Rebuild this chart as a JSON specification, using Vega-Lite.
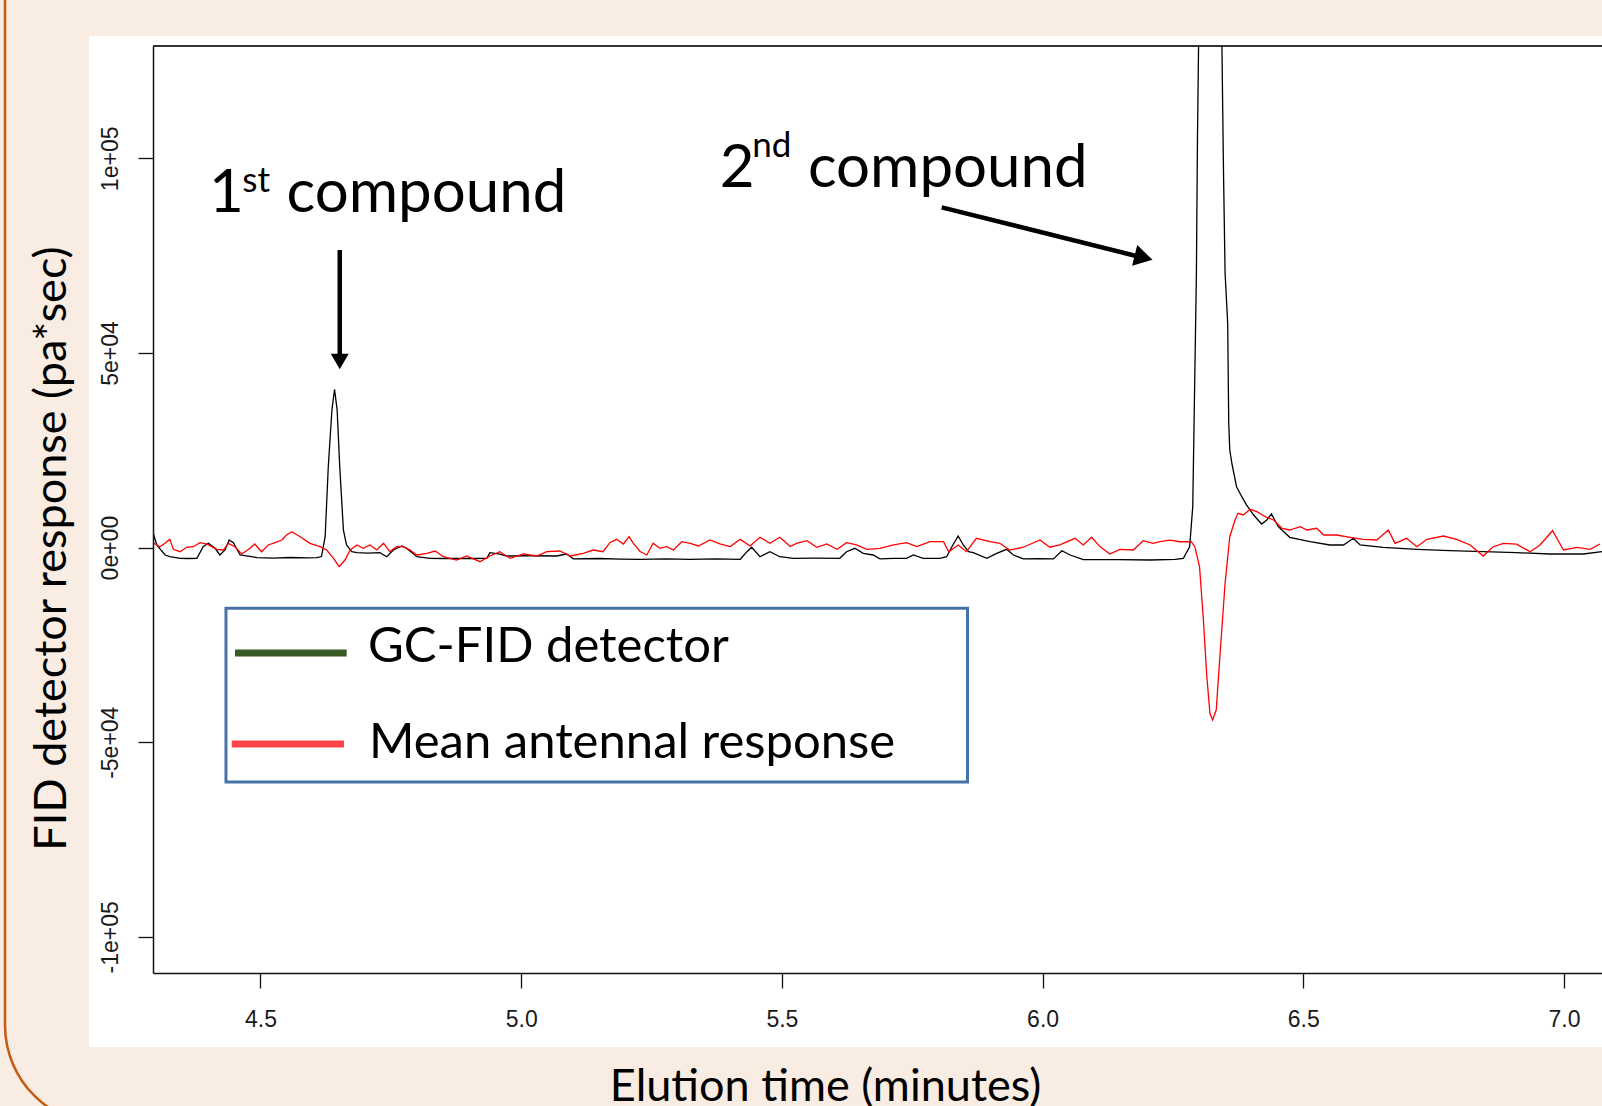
{
  "$schema": "https://vega.github.io/schema/vega-lite/v6.json",
  "width": 1449,
  "height": 927,
  "autosize": {"type": "none"},
  "padding": {"left": 153, "top": 46, "right": 0, "bottom": 133},
  "background": "#F8ECE3",
  "config": {"view": {"stroke": null}},
  "datasets": {
    "gc": [
      {"t": 4.294, "v": 3800}, {"t": 4.301, "v": 670}, {"t": 4.317, "v": -1900}, {"t": 4.326, "v": -2340}, {"t": 4.346, "v": -2750}, {"t": 4.362, "v": -2800}, {"t": 4.378, "v": -2750}, {"t": 4.390, "v": 230}, {"t": 4.400, "v": 1100}, {"t": 4.413, "v": -180}, {"t": 4.422, "v": -1900}, {"t": 4.432, "v": -600}, {"t": 4.440, "v": 1950}, {"t": 4.448, "v": 1260}, {"t": 4.461, "v": -1900}, {"t": 4.493, "v": -2550}, {"t": 4.525, "v": -2700}, {"t": 4.557, "v": -2550}, {"t": 4.589, "v": -2650}, {"t": 4.608, "v": -2550}, {"t": 4.617, "v": -2300}, {"t": 4.624, "v": 2800}, {"t": 4.630, "v": 20780}, {"t": 4.637, "v": 35350}, {"t": 4.642, "v": 40670}, {"t": 4.647, "v": 35350}, {"t": 4.652, "v": 20780}, {"t": 4.659, "v": 4520}, {"t": 4.665, "v": 670}, {"t": 4.675, "v": -1050}, {"t": 4.685, "v": -1300}, {"t": 4.706, "v": -1400}, {"t": 4.729, "v": -1300}, {"t": 4.742, "v": -2340}, {"t": 4.755, "v": -600}, {"t": 4.771, "v": 410}, {"t": 4.780, "v": -180}, {"t": 4.800, "v": -2340}, {"t": 4.825, "v": -2750}, {"t": 4.850, "v": -2800}, {"t": 4.876, "v": -2750}, {"t": 4.905, "v": -2800}, {"t": 4.934, "v": -2750}, {"t": 4.940, "v": -1300}, {"t": 4.959, "v": -1650}, {"t": 4.972, "v": -2160}, {"t": 5.017, "v": -2100}, {"t": 5.068, "v": -2160}, {"t": 5.087, "v": -1650}, {"t": 5.100, "v": -2900}, {"t": 5.151, "v": -2800}, {"t": 5.190, "v": -2950}, {"t": 5.228, "v": -3000}, {"t": 5.276, "v": -2900}, {"t": 5.324, "v": -3000}, {"t": 5.372, "v": -2900}, {"t": 5.420, "v": -3000}, {"t": 5.433, "v": -1050}, {"t": 5.442, "v": 80}, {"t": 5.458, "v": -2340}, {"t": 5.477, "v": -1050}, {"t": 5.496, "v": -2340}, {"t": 5.522, "v": -2750}, {"t": 5.563, "v": -2700}, {"t": 5.611, "v": -2750}, {"t": 5.624, "v": -1050}, {"t": 5.640, "v": -180}, {"t": 5.656, "v": -1470}, {"t": 5.675, "v": -1900}, {"t": 5.688, "v": -2900}, {"t": 5.714, "v": -2750}, {"t": 5.739, "v": -2750}, {"t": 5.752, "v": -1900}, {"t": 5.771, "v": -2750}, {"t": 5.803, "v": -2750}, {"t": 5.816, "v": -2340}, {"t": 5.826, "v": 230}, {"t": 5.838, "v": 2980}, {"t": 5.848, "v": 670}, {"t": 5.858, "v": -1050}, {"t": 5.867, "v": -1300}, {"t": 5.893, "v": -2750}, {"t": 5.912, "v": -1470}, {"t": 5.931, "v": -440}, {"t": 5.944, "v": -1900}, {"t": 5.963, "v": -2900}, {"t": 5.992, "v": -2850}, {"t": 6.021, "v": -2900}, {"t": 6.037, "v": -790}, {"t": 6.053, "v": -1900}, {"t": 6.078, "v": -3100}, {"t": 6.148, "v": -3100}, {"t": 6.206, "v": -3190}, {"t": 6.254, "v": -3000}, {"t": 6.270, "v": -2750}, {"t": 6.275, "v": -1500}, {"t": 6.282, "v": 230}, {"t": 6.288, "v": 10500}, {"t": 6.291, "v": 36200}, {"t": 6.295, "v": 70470}, {"t": 6.297, "v": 104700}, {"t": 6.301, "v": 150000}, {"t": 6.309, "v": 300000}, {"t": 6.321, "v": 380000}, {"t": 6.333, "v": 300000}, {"t": 6.337, "v": 250000}, {"t": 6.344, "v": 128000}, {"t": 6.347, "v": 96160}, {"t": 6.350, "v": 70470}, {"t": 6.353, "v": 62760}, {"t": 6.355, "v": 57620}, {"t": 6.357, "v": 31930}, {"t": 6.359, "v": 25070}, {"t": 6.363, "v": 21660}, {"t": 6.372, "v": 15650}, {"t": 6.382, "v": 13080}, {"t": 6.391, "v": 11000}, {"t": 6.404, "v": 8500}, {"t": 6.420, "v": 6060}, {"t": 6.430, "v": 7090}, {"t": 6.439, "v": 8630}, {"t": 6.452, "v": 5370}, {"t": 6.474, "v": 2650}, {"t": 6.513, "v": 1520}, {"t": 6.551, "v": 670}, {"t": 6.577, "v": 670}, {"t": 6.596, "v": 2390}, {"t": 6.609, "v": 670}, {"t": 6.653, "v": 80}, {"t": 6.718, "v": -440}, {"t": 6.781, "v": -790}, {"t": 6.845, "v": -1050}, {"t": 6.909, "v": -1300}, {"t": 6.973, "v": -1640}, {"t": 7.037, "v": -1640}, {"t": 7.073, "v": -1050}
    ],
    "ead": [
      {"t": 4.294, "v": 1260}, {"t": 4.307, "v": 230}, {"t": 4.317, "v": 1100}, {"t": 4.326, "v": 2130}, {"t": 4.333, "v": -440}, {"t": 4.346, "v": -1050}, {"t": 4.358, "v": 80}, {"t": 4.371, "v": 230}, {"t": 4.384, "v": 1260}, {"t": 4.397, "v": 920}, {"t": 4.416, "v": -440}, {"t": 4.429, "v": -620}, {"t": 4.438, "v": 1100}, {"t": 4.451, "v": 230}, {"t": 4.464, "v": -1640}, {"t": 4.480, "v": -180}, {"t": 4.489, "v": 920}, {"t": 4.502, "v": -1050}, {"t": 4.515, "v": 670}, {"t": 4.528, "v": 1260}, {"t": 4.541, "v": 1950}, {"t": 4.550, "v": 3240}, {"t": 4.560, "v": 4090}, {"t": 4.576, "v": 2800}, {"t": 4.595, "v": 1100}, {"t": 4.614, "v": 230}, {"t": 4.627, "v": -620}, {"t": 4.640, "v": -2750}, {"t": 4.651, "v": -4900}, {"t": 4.662, "v": -3190}, {"t": 4.672, "v": -620}, {"t": 4.685, "v": 670}, {"t": 4.697, "v": -180}, {"t": 4.710, "v": 670}, {"t": 4.723, "v": -620}, {"t": 4.736, "v": 1100}, {"t": 4.748, "v": -1050}, {"t": 4.761, "v": 230}, {"t": 4.774, "v": 230}, {"t": 4.787, "v": -620}, {"t": 4.800, "v": -1900}, {"t": 4.819, "v": -1470}, {"t": 4.835, "v": -880}, {"t": 4.851, "v": -2340}, {"t": 4.876, "v": -3190}, {"t": 4.895, "v": -2160}, {"t": 4.921, "v": -3620}, {"t": 4.940, "v": -2160}, {"t": 4.959, "v": -1050}, {"t": 4.979, "v": -2750}, {"t": 5.004, "v": -1640}, {"t": 5.030, "v": -2160}, {"t": 5.049, "v": -1050}, {"t": 5.074, "v": -880}, {"t": 5.094, "v": -2160}, {"t": 5.119, "v": -1470}, {"t": 5.138, "v": -620}, {"t": 5.157, "v": -1050}, {"t": 5.170, "v": 1260}, {"t": 5.183, "v": 2130}, {"t": 5.196, "v": 920}, {"t": 5.207, "v": 2800}, {"t": 5.215, "v": 1100}, {"t": 5.228, "v": -1000}, {"t": 5.241, "v": -1900}, {"t": 5.253, "v": 1100}, {"t": 5.266, "v": -180}, {"t": 5.279, "v": 260}, {"t": 5.292, "v": -610}, {"t": 5.308, "v": 1520}, {"t": 5.324, "v": 1100}, {"t": 5.340, "v": 420}, {"t": 5.362, "v": 1950}, {"t": 5.381, "v": 940}, {"t": 5.401, "v": 260}, {"t": 5.420, "v": 2120}, {"t": 5.439, "v": 420}, {"t": 5.458, "v": 2650}, {"t": 5.477, "v": 1100}, {"t": 5.496, "v": 2650}, {"t": 5.516, "v": 260}, {"t": 5.528, "v": 1100}, {"t": 5.548, "v": 1780}, {"t": 5.567, "v": 90}, {"t": 5.586, "v": 940}, {"t": 5.606, "v": -440}, {"t": 5.624, "v": 1260}, {"t": 5.643, "v": 680}, {"t": 5.663, "v": -440}, {"t": 5.688, "v": -180}, {"t": 5.714, "v": 680}, {"t": 5.739, "v": 1260}, {"t": 5.759, "v": 260}, {"t": 5.784, "v": 1520}, {"t": 5.810, "v": 1520}, {"t": 5.820, "v": -1050}, {"t": 5.838, "v": 680}, {"t": 5.854, "v": -1050}, {"t": 5.873, "v": 2390}, {"t": 5.899, "v": 1520}, {"t": 5.918, "v": 1100}, {"t": 5.937, "v": -610}, {"t": 5.963, "v": 90}, {"t": 5.995, "v": 1950}, {"t": 6.014, "v": 90}, {"t": 6.033, "v": 680}, {"t": 6.062, "v": 2390}, {"t": 6.078, "v": 680}, {"t": 6.094, "v": 2650}, {"t": 6.110, "v": 260}, {"t": 6.129, "v": -1640}, {"t": 6.148, "v": -440}, {"t": 6.174, "v": -610}, {"t": 6.193, "v": 1780}, {"t": 6.212, "v": 1100}, {"t": 6.225, "v": 1520}, {"t": 6.244, "v": 1900}, {"t": 6.263, "v": 1500}, {"t": 6.285, "v": 1520}, {"t": 6.292, "v": 230}, {"t": 6.301, "v": -4900}, {"t": 6.308, "v": -17750}, {"t": 6.315, "v": -33170}, {"t": 6.321, "v": -42570}, {"t": 6.326, "v": -44290}, {"t": 6.333, "v": -41720}, {"t": 6.340, "v": -28030}, {"t": 6.350, "v": -9170}, {"t": 6.359, "v": 2800}, {"t": 6.369, "v": 7090}, {"t": 6.375, "v": 8810}, {"t": 6.385, "v": 8380}, {"t": 6.398, "v": 9840}, {"t": 6.411, "v": 9230}, {"t": 6.427, "v": 7940}, {"t": 6.443, "v": 7090}, {"t": 6.459, "v": 4960}, {"t": 6.474, "v": 4520}, {"t": 6.494, "v": 5370}, {"t": 6.507, "v": 4520}, {"t": 6.526, "v": 4960}, {"t": 6.539, "v": 3240}, {"t": 6.564, "v": 3240}, {"t": 6.590, "v": 2650}, {"t": 6.615, "v": 2130}, {"t": 6.641, "v": 1950}, {"t": 6.663, "v": 4520}, {"t": 6.676, "v": 1100}, {"t": 6.698, "v": 2390}, {"t": 6.718, "v": 230}, {"t": 6.737, "v": 2130}, {"t": 6.769, "v": 2980}, {"t": 6.794, "v": 2130}, {"t": 6.820, "v": 670}, {"t": 6.845, "v": -2160}, {"t": 6.864, "v": 230}, {"t": 6.884, "v": 1100}, {"t": 6.909, "v": 900}, {"t": 6.935, "v": -1050}, {"t": 6.954, "v": 670}, {"t": 6.978, "v": 4340}, {"t": 6.999, "v": -620}, {"t": 7.025, "v": 80}, {"t": 7.050, "v": -440}, {"t": 7.069, "v": 920}
    ]
  },
  "encoding": {
    "x": {
      "field": "t", "type": "quantitative",
      "scale": {"domain": [4.29383, 7.07289], "nice": false, "zero": false},
      "axis": {
        "values": [4.5, 5.0, 5.5, 6.0, 6.5, 7.0], "format": ".1f", "grid": false, "zindex": 1,
        "domainColor": "#111", "domainWidth": 1.5, "tickColor": "#111", "tickWidth": 1.3, "tickSize": 15,
        "labelFont": "Liberation Sans", "labelFontSize": 23, "labelColor": "#1a1a1a", "labelPadding": 20, "labelFlush": false, "labelOverlap": false,
        "title": "Elution time (minutes)", "titleFont": "Lato", "titleFontSize": 45, "titleFontWeight": "normal", "titleColor": "#000",
        "titleX": 672, "titleY": 127, "titleAlign": "center", "titleBaseline": "alphabetic"
      }
    },
    "y": {
      "field": "v", "type": "quantitative",
      "scale": {"domain": [-109285, 128860], "nice": false, "zero": false},
      "axis": {
        "values": [-100000, -50000, 0, 50000, 100000], "grid": false, "zindex": 1,
        "labelExpr": "datum.value == 100000 ? '1e+05' : datum.value == 50000 ? '5e+04' : datum.value == 0 ? '0e+00' : datum.value == -50000 ? '-5e+04' : '-1e+05'",
        "domainColor": "#111", "domainWidth": 1.5, "tickColor": "#111", "tickWidth": 1.3, "tickSize": 15,
        "labelFont": "Liberation Sans", "labelFontSize": 23, "labelColor": "#1a1a1a", "labelAngle": 270, "labelAlign": "center", "labelBaseline": "alphabetic", "labelPadding": 21, "labelFlush": false, "labelOverlap": false,
        "title": "FID detector response (pa*sec)", "titleFont": "Lato", "titleFontSize": 45, "titleFontWeight": "normal", "titleColor": "#000",
        "titleAngle": 270, "titleX": -102, "titleY": 502, "titleAlign": "center", "titleBaseline": "middle"
      }
    }
  },
  "layer": [
    {
      "data": {"values": [{"t": 4.0100, "t2": 7.45, "v": 192000, "v2": -148330}]},
      "mark": {"type": "rect", "fill": "#F8ECE3", "fillOpacity": 0, "stroke": "#C55A11", "strokeWidth": 2.5, "cornerRadius": 100},
      "encoding": {"x2": {"field": "t2"}, "y2": {"field": "v2"}}
    },
    {
      "data": {"values": [{"t": 4.1711, "t2": 7.3, "v": 131430, "v2": -128300}]},
      "mark": {"type": "rect", "fill": "#FFFFFF", "stroke": null},
      "encoding": {"x2": {"field": "t2"}, "y2": {"field": "v2"}}
    },
    {
      "data": {"values": [{"t": 4.29383, "t2": 7.2, "v": 128860}]},
      "mark": {"type": "rule", "stroke": "#333", "strokeWidth": 2},
      "encoding": {"x2": {"field": "t2"}}
    },
    {
      "data": {"name": "gc"},
      "mark": {"type": "line", "color": "#000000", "strokeWidth": 1.3, "clip": true},
      "encoding": {}
    },
    {
      "data": {"name": "ead"},
      "mark": {"type": "line", "color": "#FF0000", "strokeWidth": 1.3, "clip": true},
      "encoding": {}
    },
    {
      "data": {"values": [{"t": 4.652, "t2": 4.652, "v": 76450, "v2": 49000}, {"t": 5.8065, "t2": 6.1871, "v": 87420, "v2": 74660}]},
      "mark": {"type": "rule", "color": "#000", "strokeWidth": 4.5},
      "encoding": {"x2": {"field": "t2"}, "y2": {"field": "v2"}}
    },
    {
      "data": {"values": [{"t": 4.652, "v": 47810}]},
      "mark": {"type": "point", "shape": "triangle-down", "filled": true, "color": "#000", "size": 320, "opacity": 1},
      "encoding": {}
    },
    {
      "data": {"values": [{"t": 6.1937, "v": 74500}]},
      "mark": {"type": "point", "shape": "triangle-right", "filled": true, "color": "#000", "size": 450, "angle": 14, "opacity": 1},
      "encoding": {}
    },
    {
      "data": {"values": [{"t": 4.4338, "t2": 5.856, "v": -15590, "v2": -60220}]},
      "mark": {"type": "rect", "fill": "#FFFFFF", "stroke": "#4672A6", "strokeWidth": 3},
      "encoding": {"x2": {"field": "t2"}, "y2": {"field": "v2"}}
    },
    {
      "data": {"values": [{"t": 4.4511, "t2": 4.6653, "v": -27080}]},
      "mark": {"type": "rule", "color": "#3A5A24", "strokeWidth": 7, "strokeCap": "butt"},
      "encoding": {"x2": {"field": "t2"}}
    },
    {
      "data": {"values": [{"t": 4.4448, "t2": 4.6601, "v": -50460}]},
      "mark": {"type": "rule", "color": "#FF4545", "strokeWidth": 7, "strokeCap": "butt"},
      "encoding": {"x2": {"field": "t2"}}
    },
    {
      "data": {"values": [{"label": "GC-FID detector", "t": 4.7062, "v": -29310}, {"label": "Mean antennal response", "t": 4.708, "v": -54130}]},
      "mark": {"type": "text", "align": "left", "baseline": "alphabetic", "font": "Lato", "fontSize": 49, "color": "#000"},
      "encoding": {"text": {"field": "label"}}
    },
    {
      "data": {"values": [{"label": "1", "t": 4.401, "v": 86210}, {"label": "compound", "t": 4.550, "v": 86210}, {"label": "2", "t": 5.381, "v": 92710}, {"label": "compound", "t": 5.550, "v": 92710}]},
      "mark": {"type": "text", "align": "left", "baseline": "alphabetic", "font": "Lato", "fontSize": 60, "color": "#000"},
      "encoding": {"text": {"field": "label"}}
    },
    {
      "data": {"values": [{"label": "st", "t": 4.465, "v": 91430}, {"label": "nd", "t": 5.443, "v": 100420}]},
      "mark": {"type": "text", "align": "left", "baseline": "alphabetic", "font": "Lato", "fontSize": 35, "color": "#000"},
      "encoding": {"text": {"field": "label"}}
    }
  ]
}
